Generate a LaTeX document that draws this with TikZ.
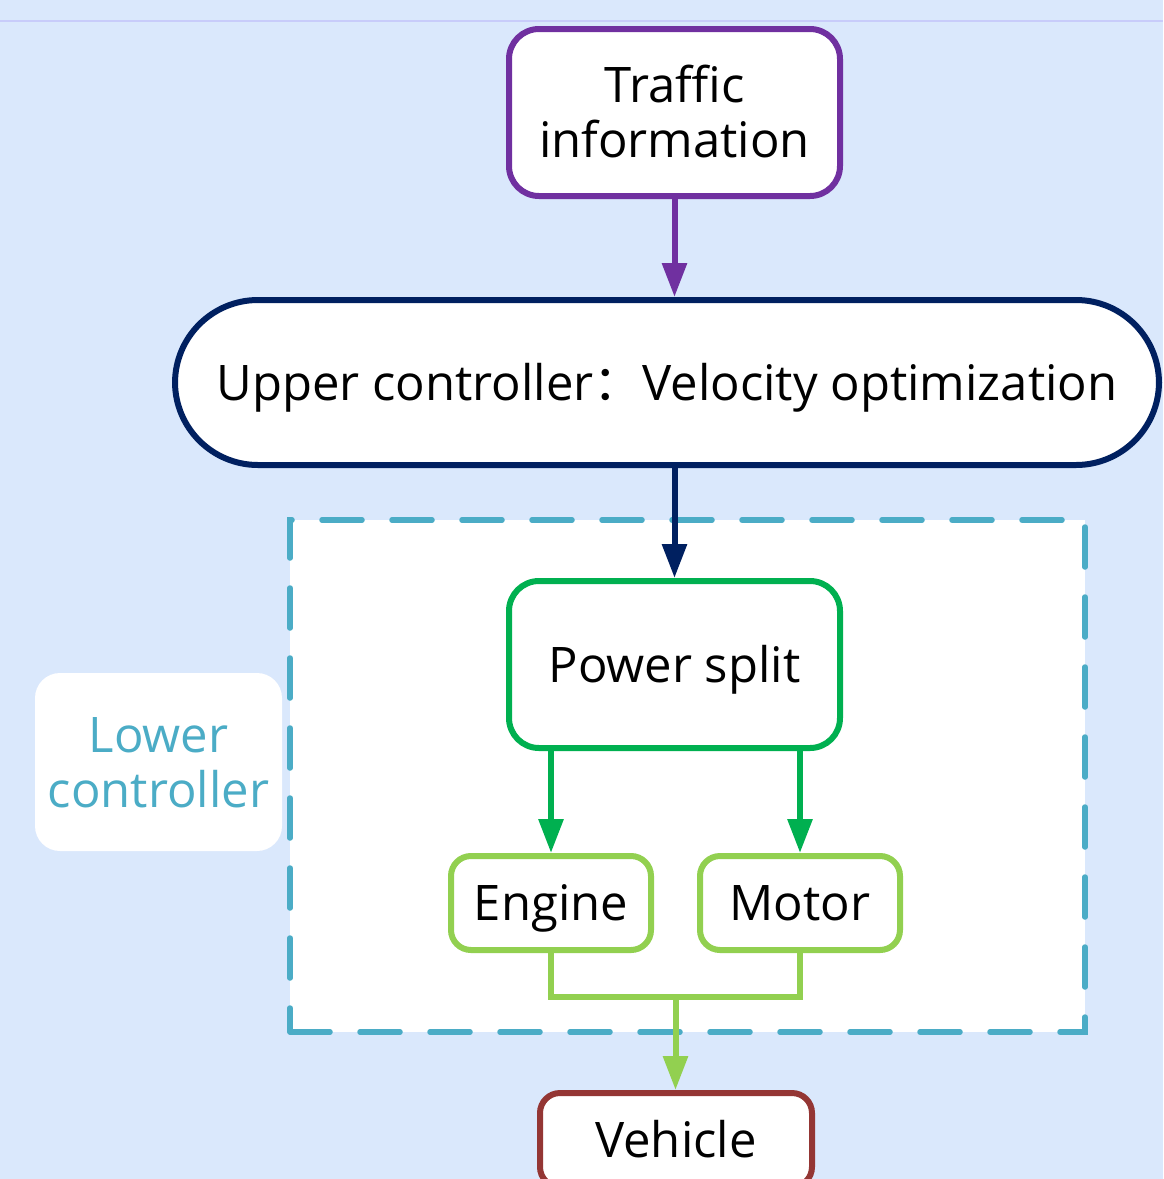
\documentclass[tikz,border=0pt]{standalone}
\usepackage{fontspec}
\setmainfont{Open Sans}
\newfontfamily\cjk{Noto Sans CJK SC}
\usetikzlibrary{arrows.meta,positioning,calc}
\definecolor{bgblue}{HTML}{DAE8FC}
\definecolor{topline}{HTML}{C8CCFA}
\definecolor{purp}{HTML}{7030A0}
\definecolor{navy}{HTML}{002060}
\definecolor{grn}{HTML}{00B050}
\definecolor{lgrn}{HTML}{92D050}
\definecolor{teal}{HTML}{4BACC6}
\definecolor{brick}{HTML}{943634}
\tikzset{
  bigfont/.style={font=\fontsize{49}{55}\selectfont, text height=35pt, text depth=0pt},
  twolines/.style={text height=90pt, text depth=0pt},
  box/.style={draw, line width=6pt, fill=white, rounded corners=30pt, align=center, inner sep=0pt, bigfont},
  smallbox/.style={box, rounded corners=20pt},
  arr/.style={line width=6pt, -{Triangle[width=24pt,length=34pt]}},
}
\begin{document}
\begin{tikzpicture}[x=1pt,y=-1pt]
\useasboundingbox (0,0) rectangle (1163,1179);
\clip (0,0) rectangle (1163,1179);
\fill[bgblue] (0,0) rectangle (1163,1179);
\draw[topline, line width=2pt] (0,21) -- (1163,21);
% dashed lower controller region
\node[draw=teal, fill=white, line width=5.5pt, dash pattern=on 40pt off 30pt, line cap=round,
  minimum width=795pt, minimum height=512pt, inner sep=0pt] (lowerbox) at (687.5,776) {};
\node[fill=white, rounded corners=25pt, minimum width=247pt, minimum height=178pt, inner sep=0pt,
  align=center, text=teal, bigfont, twolines] (lowerlbl) at (158.5,762) {Lower\\controller};
% nodes
\node[box, draw=purp, minimum width=331pt, minimum height=167pt, twolines] (traffic) at (674.5,112.5) {Traffic\\information};
\node[box, draw=navy, rounded corners=83pt, minimum width=984pt, minimum height=165pt] (upper) at (667,382.5)
  {Upper controller{\cjk ：}Velocity optimization};
\node[box, draw=grn, minimum width=331pt, minimum height=167pt] (power) at (674.5,664.5) {Power split};
\node[smallbox, draw=lgrn, minimum width=200pt, minimum height=94pt] (engine) at (551,903) {Engine};
\node[smallbox, draw=lgrn, minimum width=200pt, minimum height=94pt] (motor) at (800,903) {Motor};
\node[smallbox, draw=brick, minimum width=272pt, minimum height=94pt] (vehicle) at (676,1140) {Vehicle};
% connectors
\draw[arr, purp] (traffic.south) -- (traffic.south |- upper.north);
\draw[arr, navy] (upper.south -| traffic.south) -- (power.north);
\draw[arr, grn] (power.south -| engine.north) -- (engine.north);
\draw[arr, grn] (power.south -| motor.north) -- (motor.north);
\coordinate (junc) at ($(engine.south)!0.5!(motor.south) + (0,44)$);
\draw[lgrn, line width=6pt] (engine.south) |- (junc) -| (motor.south);
\draw[arr, lgrn] (junc) -- (junc |- vehicle.north);
\end{tikzpicture}
\end{document}
